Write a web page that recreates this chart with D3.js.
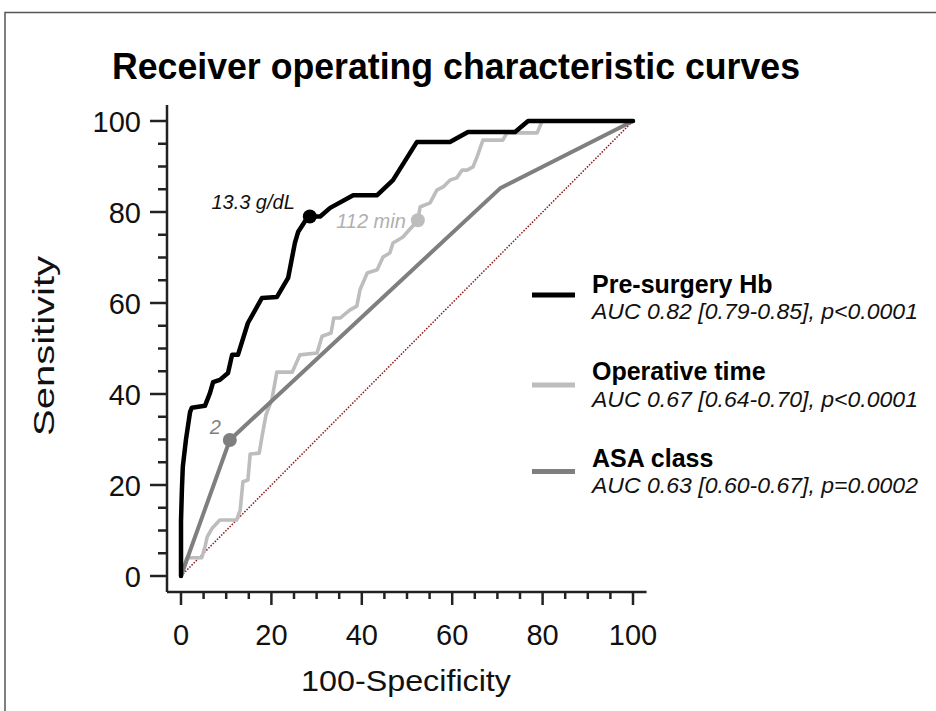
<!DOCTYPE html>
<html>
<head>
<meta charset="utf-8">
<script src="https://cdn.jsdelivr.net/npm/d3@7"></script>
<style>
  html, body { margin: 0; padding: 0; background: #fff; }
  svg text { font-family: "Liberation Sans", Arial, sans-serif; }
</style>
</head>
<body>
<svg id="chart" width="936" height="711"></svg>
<script>
// ---- Data ----
const hbX  = [0, 0, 0.2, 0.4, 1.1, 2, 2.4, 5.3, 6.4, 7.1, 8.6, 10.4, 11.3, 12.6, 14.8, 17.9, 21.2, 23.7, 25.2, 25.9, 27.9, 28.5, 30.8, 33, 38.1, 43.4, 46.9, 52.2, 59.5, 63.5, 73.9, 76.8, 100];
const hbY  = [0, 12, 19, 24, 30, 36, 37, 37.4, 40.2, 42.6, 43.1, 44.6, 48.6, 48.6, 55.6, 61.1, 61.3, 65.5, 73.2, 75.6, 78.7, 79, 79, 80.9, 83.7, 83.7, 87, 95.4, 95.4, 97.6, 97.6, 100, 100];

const opX  = [0, 1.3, 4.6, 5.3, 5.8, 6.9, 8.6, 12.3, 13.1, 13.7, 14.8, 15.3, 17.3, 17.9, 18.8, 20.1, 21.2, 24.6, 26.3, 30.1, 31.2, 33.2, 33.8, 35.2, 37.4, 38.9, 39.6, 41.2, 43.4, 44.7, 46.2, 46.9, 49.1, 52.4, 52.9, 55.1, 56.6, 58, 59.5, 61, 62.2, 63.3, 64.6, 65.5, 66.8, 71.2, 72.1, 78.8, 79.9, 100];
const opY  = [0, 4, 4, 6.4, 8.6, 10.5, 12.3, 12.3, 14.5, 20.7, 21.1, 26.8, 27, 30.5, 35.4, 38.7, 44.8, 44.8, 48.6, 49, 52.7, 53.4, 56.7, 56.7, 58.5, 59.3, 62.9, 66.6, 67.3, 70.1, 71, 73.2, 74.5, 78.2, 81.1, 82, 84.8, 85.5, 87, 87.5, 89.2, 89.2, 89.9, 92.1, 95.8, 95.8, 97.4, 97.4, 100, 100];

const asaX = [0, 10.8, 70.6, 100];
const asaY = [0, 29.9, 85.2, 100];

const diagX = [0, 100];
const diagY = [0, 100];

const seriesNames = ["Pre-surgery Hb", "Operative time", "ASA class"];
const seriesAUC = ["AUC 0.82 [0.79-0.85], p<0.0001", "AUC 0.67 [0.64-0.70], p<0.0001", "AUC 0.63 [0.60-0.67], p=0.0002"];
const cutoffLabels = ["13.3 g/dL", "112 min", "2"];
const cutoffX = [28.5, 52.4, 10.8];
const cutoffY = [79, 78.2, 29.9];

const xTicks = [0, 20, 40, 60, 80, 100];
const yTicks = [0, 20, 40, 60, 80, 100];
const minorTicks = [5, 10, 15, 25, 30, 35, 45, 50, 55, 65, 70, 75, 85, 90, 95];

const titleText = "Receiver operating characteristic curves";
const xLabel = "100-Specificity";
const yLabel = "Sensitivity";

// ---- Styles ----
const colors = ["#000000", "#bdbdbd", "#7f7f7f"];
const widths = [4.5, 3.6, 4];

const svg = d3.select("#chart");

// frame (top & left visible)
svg.append("rect").attr("x", 5).attr("y", 12.5).attr("width", 1200).attr("height", 1200)
  .attr("fill", "#fff").attr("stroke", "#555").attr("stroke-width", 1.5);

const x = d3.scaleLinear().domain([0, 100]).range([181, 633]);
const y = d3.scaleLinear().domain([0, 100]).range([576, 121]);

// title
svg.append("text").attr("x", 456).attr("y", 79).attr("text-anchor", "middle")
  .attr("font-size", 36).attr("font-weight", "bold").attr("fill", "#000")
  .attr("textLength", 688).attr("lengthAdjust", "spacingAndGlyphs")
  .text(titleText);

// axes lines
const axisColor = "#222";
const yAxisX = 167, xAxisY = 592;
svg.append("line").attr("x1", yAxisX).attr("x2", yAxisX).attr("y1", y(103.5)).attr("y2", xAxisY)
  .attr("stroke", axisColor).attr("stroke-width", 2.5);
svg.append("line").attr("x1", yAxisX).attr("x2", x(103)).attr("y1", xAxisY).attr("y2", xAxisY)
  .attr("stroke", axisColor).attr("stroke-width", 2.5);

// y ticks
const gy = svg.append("g");
gy.selectAll("line.maj").data(yTicks).join("line").attr("class", "maj")
  .attr("x1", yAxisX - 17).attr("x2", yAxisX).attr("y1", d => y(d)).attr("y2", d => y(d))
  .attr("stroke", axisColor).attr("stroke-width", 2.5);
gy.selectAll("line.min").data(minorTicks).join("line").attr("class", "min")
  .attr("x1", yAxisX - 9).attr("x2", yAxisX).attr("y1", d => y(d)).attr("y2", d => y(d))
  .attr("stroke", axisColor).attr("stroke-width", 2.5);
gy.selectAll("text").data(yTicks).join("text")
  .attr("x", 141).attr("y", d => y(d) + 10.5).attr("text-anchor", "end")
  .attr("font-size", 29).attr("fill", "#111").text(d => d);

// x ticks
const gx = svg.append("g");
gx.selectAll("line.maj").data(xTicks).join("line").attr("class", "maj")
  .attr("x1", d => x(d)).attr("x2", d => x(d)).attr("y1", xAxisY).attr("y2", xAxisY + 13)
  .attr("stroke", axisColor).attr("stroke-width", 2.5);
gx.selectAll("line.min").data(minorTicks).join("line").attr("class", "min")
  .attr("x1", d => x(d)).attr("x2", d => x(d)).attr("y1", xAxisY).attr("y2", xAxisY + 7)
  .attr("stroke", axisColor).attr("stroke-width", 2.5);
gx.selectAll("text").data(xTicks).join("text")
  .attr("x", d => x(d)).attr("y", 645).attr("text-anchor", "middle")
  .attr("font-size", 29).attr("fill", "#111").text(d => d);

// axis labels
svg.append("text").attr("x", 406).attr("y", 691).attr("text-anchor", "middle")
  .attr("font-size", 29).attr("fill", "#111")
  .attr("textLength", 210).attr("lengthAdjust", "spacingAndGlyphs").text(xLabel);
svg.append("text").attr("transform", "translate(54,346) rotate(-90)").attr("text-anchor", "middle")
  .attr("font-size", 29).attr("fill", "#111")
  .attr("textLength", 180).attr("lengthAdjust", "spacingAndGlyphs").text(yLabel);

// diagonal
const line = d3.line().x(d => x(d[0])).y(d => y(d[1]));
svg.append("path").datum(d3.zip(diagX, diagY)).attr("d", line)
  .attr("fill", "none").attr("stroke", "#8b1a1a").attr("stroke-width", 1.5)
  .attr("stroke-dasharray", "1.5,1.5");

const series = [d3.zip(hbX, hbY), d3.zip(opX, opY), d3.zip(asaX, asaY)];
const order = [1, 2, 0];
order.forEach(i => {
  svg.append("path").datum(series[i]).attr("d", line)
    .attr("fill", "none").attr("stroke", colors[i]).attr("stroke-width", widths[i])
    .attr("stroke-linejoin", "round").attr("stroke-linecap", "round");
});

// cutoff dots
const dotColors = ["#000000", "#bdbdbd", "#7f7f7f"];
order.forEach(i => {
  svg.append("circle").attr("cx", x(cutoffX[i])).attr("cy", y(cutoffY[i])).attr("r", 7)
    .attr("fill", dotColors[i]);
});
// cutoff labels
const labelPos = [[x(cutoffX[0]) - 15, y(cutoffY[0]) - 8, "#111"],
                  [x(cutoffX[1]) - 12, y(cutoffY[1]) + 8, "#b0b0b0"],
                  [x(cutoffX[2]) - 9, y(cutoffY[2]) - 6, "#7f7f7f"]];
cutoffLabels.forEach((t, i) => {
  svg.append("text").attr("x", labelPos[i][0]).attr("y", labelPos[i][1])
    .attr("text-anchor", "end").attr("font-size", 20).attr("font-style", "italic")
    .attr("fill", labelPos[i][2]).text(t);
});

// legend
const legY = [292.7, 380, 466.7];
const legLineY = [295, 385, 471.5];
seriesNames.forEach((n, i) => {
  svg.append("line").attr("x1", 532).attr("x2", 575).attr("y1", legLineY[i]).attr("y2", legLineY[i])
    .attr("stroke", colors[i]).attr("stroke-width", 5);
  svg.append("text").attr("x", 592).attr("y", legY[i]).attr("font-size", 25)
    .attr("font-weight", "bold").attr("fill", "#000").text(n);
  svg.append("text").attr("x", 592).attr("y", legY[i] + 26.5).attr("font-size", 22)
    .attr("font-style", "italic").attr("fill", "#111")
    .attr("textLength", 326).attr("lengthAdjust", "spacingAndGlyphs").text(seriesAUC[i]);
});
</script>
</body>
</html>
